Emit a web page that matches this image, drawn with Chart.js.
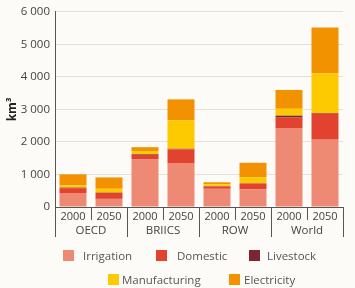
<!DOCTYPE html>
<html>
<head>
<meta charset="utf-8">
<script src="https://cdn.jsdelivr.net/npm/chart.js@4.4.1/dist/chart.umd.min.js"></script>
<style>
  html, body { margin: 0; padding: 0; background: #fdfbf7; }
  #wrap { position: relative; width: 355px; height: 288px; overflow: hidden; }
  #box { position: absolute; left: 0; top: 0; width: 355px; height: 288px; }
  .leg { position: absolute; height: 16px; line-height: 16px; font-family: "Open Sans", sans-serif; font-size: 11.5px; color: #555; white-space: nowrap; }
  .leg span.sw { display: inline-block; width: 11px; height: 11px; vertical-align: -1px; }
</style>
</head>
<body>
<div id="wrap">
  <div id="box"><canvas id="c"></canvas></div>
</div>
<script>
// ---- data ----
const years = ['2000', '2050', '2000', '2050', '2000', '2050', '2000', '2050'];
const regions = ['OECD', 'BRIICS', 'ROW', 'World'];
const irrigation    = [430, 250, 1460, 1350, 560, 540, 2430, 2070];
const domestic      = [150, 180, 140, 420, 70, 180, 320, 800];
const livestock     = [15, 10, 20, 20, 10, 10, 60, 20];
const manufacturing = [70, 120, 100, 880, 60, 180, 210, 1220];
const electricity   = [340, 350, 120, 640, 60, 450, 580, 1410];
const seriesNames = ['Irrigation', 'Domestic', 'Livestock', 'Manufacturing', 'Electricity'];
const yTickLabels = ['0', '1 000', '2 000', '3 000', '4 000', '5 000', '6 000'];
const yTitle = 'km³';

// ---- styles ----
const colors = ['#ee8a74', '#e2432f', '#7b2535', '#fdc900', '#f39200'];
const axisColor = '#555';
const textColor = '#444';

const seriesValues = [irrigation, domestic, livestock, manufacturing, electricity];

const xLabels = {
  id: 'xLabels',
  afterDraw(chart) {
    const x = chart.scales.x;
    const area = chart.chartArea;
    const ctx = chart.ctx;
    const n = years.length;
    const step = (x.right - x.left) / n;
    ctx.save();
    ctx.strokeStyle = axisColor;
    ctx.lineWidth = 1;
    for (let i = 0; i <= n; i++) {
      const px = Math.round(x.left + i * step) + 0.5;
      const len = (i % 2 === 0) ? 30 : 13;
      ctx.beginPath();
      ctx.moveTo(px, area.bottom);
      ctx.lineTo(px, area.bottom + len);
      ctx.stroke();
    }
    ctx.fillStyle = textColor;
    ctx.textAlign = 'center';
    ctx.textBaseline = 'middle';
    ctx.font = '11px "Open Sans"';
    years.forEach((y, i) => {
      ctx.fillText(y, x.getPixelForValue(i), area.bottom + 10);
    });
    ctx.font = '11.5px "Open Sans"';
    regions.forEach((r, g) => {
      const cx = (x.getPixelForValue(2 * g) + x.getPixelForValue(2 * g + 1)) / 2;
      ctx.fillText(r, cx, area.bottom + 24);
    });
    ctx.restore();
  }
};

new Chart(document.getElementById('c'), {
  type: 'bar',
  data: {
    labels: years,
    datasets: seriesNames.map((name, i) => ({
      label: name,
      data: seriesValues[i],
      backgroundColor: colors[i],
      borderWidth: 0,
      barPercentage: 0.75,
      categoryPercentage: 1.0
    }))
  },
  options: {
    responsive: true,
    maintainAspectRatio: false,
    animation: false,
    layout: { padding: { top: 10, right: 12, bottom: 81, left: 0 } },
    plugins: { legend: { display: false }, tooltip: { enabled: false } },
    scales: {
      x: {
        stacked: true,
        grid: { display: false, drawTicks: false },
        border: { display: true, color: axisColor, width: 1 },
        ticks: { display: false },
        afterFit(s) { s.height = 0; }
      },
      y: {
        stacked: true,
        min: 0,
        max: 6000,
        ticks: {
          stepSize: 1000,
          color: textColor,
          padding: 5,
          font: { family: 'Open Sans', size: 11.5 },
          callback: (v) => yTickLabels[Math.round(v / 1000)]
        },
        grid: {
          drawTicks: false,
          color: (c) => c.tick.value === 0 ? 'rgba(0,0,0,0)' : '#e3e0da',
          lineWidth: 1
        },
        border: { display: true, color: axisColor, width: 1 },
        title: {
          display: true,
          text: yTitle,
          color: '#222',
          font: { family: 'Open Sans', size: 12, weight: 'bold' },
          padding: { top: 5, bottom: 0 }
        },
        afterFit(s) { s.width = 55; }
      }
    }
  },
  plugins: [xLabels]
});

// HTML legend built from the series
const legendPos = [[63, 256], [156, 256], [249, 256], [108, 280], [229, 280]];
const legendGap = [9, 10, 7, 3, 4];
const wrap = document.getElementById('wrap');
seriesNames.forEach((name, i) => {
  const d = document.createElement('div');
  d.className = 'leg';
  d.style.left = legendPos[i][0] + 'px';
  d.style.top = (legendPos[i][1] - 8) + 'px';
  d.innerHTML = '<span class="sw" style="background:' + colors[i] + ';margin-right:' + legendGap[i] + 'px"></span>' + name;
  wrap.appendChild(d);
});
</script>
</body>
</html>
